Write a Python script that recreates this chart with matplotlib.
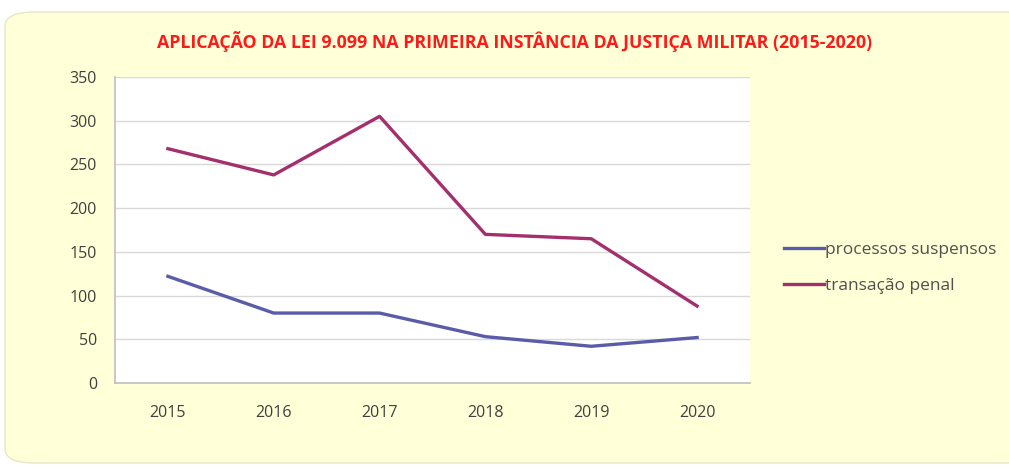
import matplotlib
matplotlib.use("Agg")
import matplotlib.pyplot as plt
from matplotlib.patches import FancyBboxPatch

# data
anos = ["2015", "2016", "2017", "2018", "2019", "2020"]
processos_suspensos = [122, 80, 80, 53, 42, 52]
transacao_penal = [268, 238, 305, 170, 165, 88]

titulo = "APLICAÇÃO DA LEI 9.099 NA PRIMEIRA INSTÂNCIA DA JUSTIÇA MILITAR (2015-2020)"

W, H = 1009, 469
fig = plt.figure(figsize=(W / 100, H / 100), dpi=100)
fig.patch.set_facecolor("white")

# yellow rounded panel behind everything
panel = FancyBboxPatch((5 / W, 6 / H), 1.02, (H - 18) / H,
                       boxstyle="round,pad=0,rounding_size=0.03",
                       transform=fig.transFigure, facecolor="#FFFFD8",
                       edgecolor="#E6E6C8", linewidth=1, zorder=-5)
fig.patches.append(panel)

ax = fig.add_axes([115 / W, (H - 383) / H, (750 - 115) / W, (383 - 77) / H])
ax.set_zorder(2)
ax.set_facecolor("white")

x = range(len(anos))
ax.plot(x, processos_suspensos, color="#5A5CA8", lw=2.4, label="processos suspensos")
ax.plot(x, transacao_penal, color="#A3306C", lw=2.4, label="transação penal")

ax.set_xlim(-0.5, len(anos) - 0.5)
ax.set_ylim(0, 350)
ax.set_yticks(range(0, 351, 50))
ax.set_xticks(list(x))
ax.set_xticklabels(anos)
ax.grid(axis="y", color="#D9D9D9", lw=1)
ax.set_axisbelow(True)

for s in ["top", "right"]:
    ax.spines[s].set_visible(False)
for s in ["left", "bottom"]:
    ax.spines[s].set_color("#BFBFBF")
    ax.spines[s].set_linewidth(1.2)

ax.tick_params(length=0, labelsize=11.5, labelcolor="#404040", pad=16)
ax.tick_params(axis="y", pad=13)
for lbl in ax.get_xticklabels() + ax.get_yticklabels():
    lbl.set_fontfamily("Open Sans")

fig.text(515 / W, 1 - 42 / H, titulo, color="#FF1A1A", fontsize=12.8,
         fontweight="bold", family="Open Sans", ha="center", va="center",
         zorder=3)

leg = fig.legend(loc="center left", bbox_to_anchor=(768 / W, 1 - 268 / H),
                 frameon=False, handlelength=2.3,
                 handletextpad=0.1, labelspacing=1.1,
                 prop={"family": "Open Sans", "size": 12.5})
leg.set_zorder(3)
for t in leg.get_texts():
    t.set_color("#505050")

fig.savefig("out.png", dpi=100, facecolor=fig.get_facecolor())
